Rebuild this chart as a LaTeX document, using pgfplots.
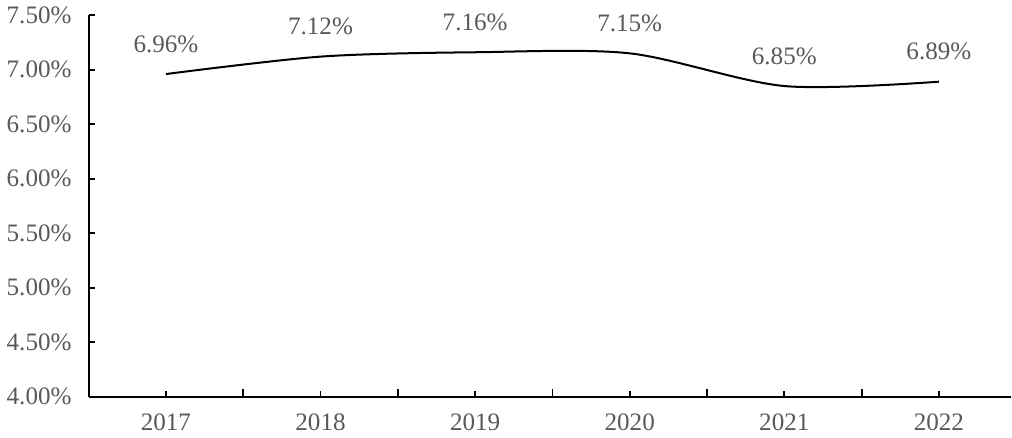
\documentclass[border=0pt]{standalone}
\usepackage{fontspec}
\setmainfont{Liberation Serif}
\usepackage{pgfplots}
\pgfplotsset{compat=1.18}
\definecolor{txtgray}{HTML}{595959}
\begin{document}
\begin{tikzpicture}
\begin{axis}[
    scale only axis,
    width=459.5pt, height=190pt,
    axis lines*=left,
    axis line style={black, line width=0.9pt},
    xmin=-0.5, xmax=5.467,
    ymin=4, ymax=7.5,
    xtick={0,...,5},
    xticklabels={2017,2018,2019,2020,2021,2022},
    minor xtick={-0.5,0.5,1.5,2.5,3.5,4.5},
    ytick={4,4.5,...,7.5},
    yticklabel={\pgfmathprintnumber[fixed,fixed zerofill,precision=2]{\tick}\%},
    /pgf/number format/assume math mode=true,
    tick align=inside,
    major tick length=3pt,
    minor tick length=4pt,
    tick style={black, line width=0.9pt},
    ticklabel style={font=\fontsize{12.5}{14}\selectfont, text=txtgray},
    xticklabel style={yshift=-5pt},
    yticklabel style={xshift=-5pt},
    clip=false,
]
\addplot[black, line width=1pt, smooth, tension=0.5,
    nodes near coords={\pgfmathprintnumber[fixed,fixed zerofill,precision=2]{\pgfplotspointmeta}\%},
    point meta=explicit,
    every node near coord/.append style={anchor=center, yshift=15pt, font=\fontsize{12.5}{14}\selectfont, text=txtgray, /pgf/number format/assume math mode=true},
] coordinates {
    (0,6.96) [6.96]
    (1,7.12) [7.12]
    (2,7.16) [7.16]
    (3,7.15) [7.15]
    (4,6.85) [6.85]
    (5,6.89) [6.89]
};
\end{axis}
\path ([xshift=-3pt]current axis.west);
\end{tikzpicture}
\end{document}
